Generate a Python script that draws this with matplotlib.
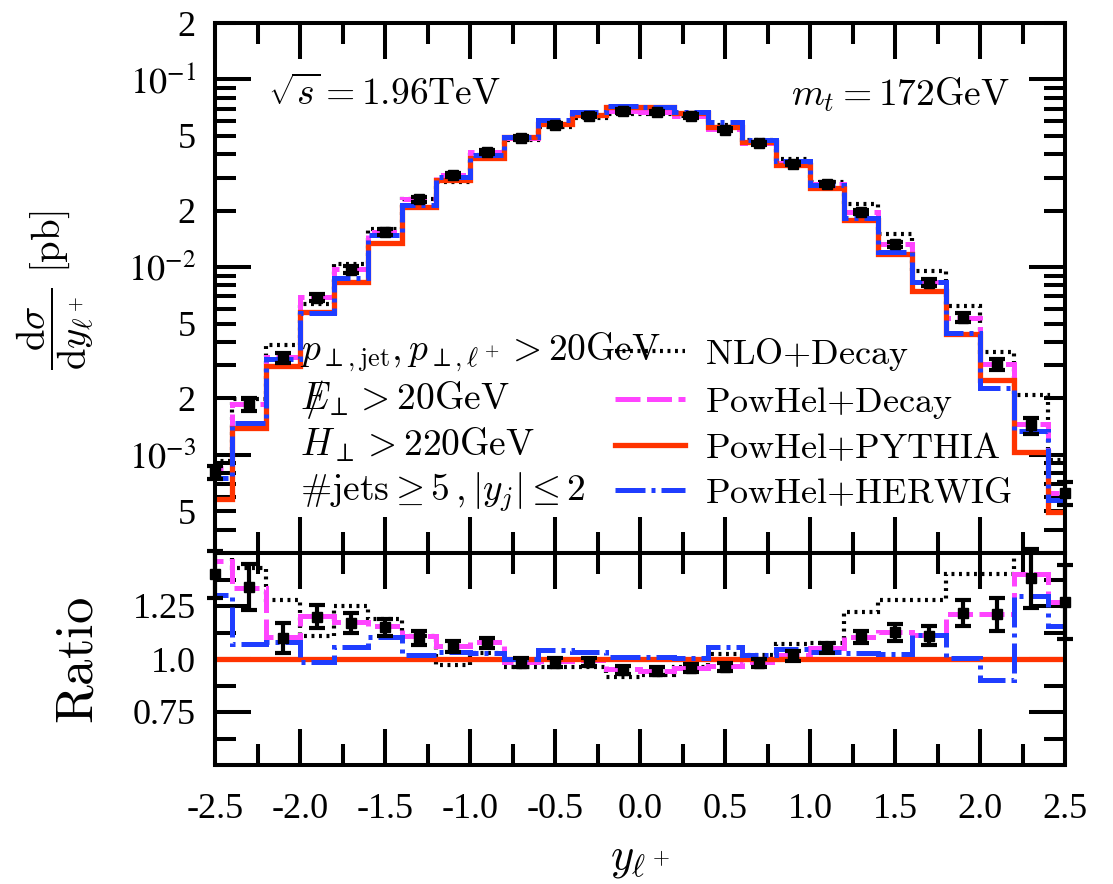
import numpy as np
import matplotlib
matplotlib.use("Agg")
import matplotlib.pyplot as plt
from matplotlib.ticker import FixedLocator, FuncFormatter, MultipleLocator, NullFormatter
from matplotlib.lines import Line2D

plt.rcParams["font.family"] = ["Liberation Serif", "DejaVu Serif"]
plt.rcParams["mathtext.fontset"] = "stix"
plt.rcParams["axes.unicode_minus"] = False

# bin centres in lepton rapidity
y_centers = [-2.5, -2.3, -2.1, -1.9, -1.7, -1.5, -1.3, -1.1, -0.9, -0.7, -0.5, -0.3, -0.1,
             0.1, 0.3, 0.5, 0.7, 0.9, 1.1, 1.3, 1.5, 1.7, 1.9, 2.1, 2.3, 2.5]
bin_width = 0.2

# PowHel+PYTHIA cross section per bin [pb]
xs_pythia = [5.8e-4, 1.39e-3, 2.99e-3, 5.74e-3, 8.3e-3, 1.34e-2, 2.09e-2, 2.92e-2, 3.83e-2,
             4.96e-2, 5.82e-2, 6.5e-2, 7.18e-2, 7.1e-2, 6.67e-2, 5.61e-2, 4.67e-2, 3.51e-2,
             2.64e-2, 1.78e-2, 1.174e-2, 7.45e-3, 4.43e-3, 2.52e-3, 1.04e-3, 4.96e-4]

# other predictions relative to PowHel+PYTHIA
ratio_nlo = [1.60, 1.43, 1.28, 1.11, 1.25, 1.19, 1.11, 0.97, 1.03, 0.96, 0.96, 0.96, 0.915,
             0.925, 0.96, 1.025, 1.02, 1.07, 1.075, 1.22, 1.28, 1.28, 1.40, 1.40, 2.0, 1.9]
ratio_decay = [1.46, 1.336, 1.105, 1.204, 1.176, 1.156, 1.11, 1.06, 1.078, 0.986, 0.99, 0.995,
               0.952, 0.943, 0.957, 0.967, 0.986, 1.018, 1.05, 1.104, 1.127, 1.113, 1.212,
               1.212, 1.40, 1.27]
ratio_herwig = [1.30, 1.07, 1.08, 0.987, 1.058, 1.105, 1.02, 1.035, 1.03, 1.0, 1.042, 1.035,
                1.01, 1.01, 1.005, 1.055, 1.02, 1.048, 1.034, 1.03, 1.025, 1.113, 1.007, 0.903,
                1.295, 1.157]
ratio_points = [1.40, 1.34, 1.10, 1.20, 1.17, 1.15, 1.10, 1.057, 1.075, 0.983, 0.983, 0.986,
                0.948, 0.943, 0.958, 0.962, 0.98, 1.014, 1.052, 1.104, 1.127, 1.11, 1.217,
                1.21, 1.38, 1.27]
ratio_points_err = [0.11, 0.11, 0.07, 0.055, 0.047, 0.04, 0.033, 0.026, 0.025, 0.02, 0.02,
                    0.02, 0.02, 0.018, 0.018, 0.02, 0.02, 0.022, 0.025, 0.03, 0.04, 0.045,
                    0.063, 0.08, 0.14, 0.175]

labels = ["NLO+Decay", "PowHel+Decay", "PowHel+PYTHIA", "PowHel+HERWIG"]

centers = np.array(y_centers)
edges = np.append(centers - bin_width / 2, centers[-1] + bin_width / 2)
pythia = np.array(xs_pythia)
ratios = {
    "nlo": np.array(ratio_nlo),
    "decay": np.array(ratio_decay),
    "pythia": pythia / pythia,
    "herwig": np.array(ratio_herwig),
}
styles = {
    "nlo": dict(color="black", lw=3.0, ls=(0, (0.7, 1.1))),
    "decay": dict(color="#ff44ff", lw=3.6, ls=(0, (5, 1.3))),
    "pythia": dict(color="#ff3300", lw=3.8, ls="-"),
    "herwig": dict(color="#1f3dff", lw=3.6, ls=(0, (6, 1.2, 0.8, 1.2))),
}
order = ["nlo", "decay", "pythia", "herwig"]

W, H = 1113, 884
fig = plt.figure(figsize=(W / 100, H / 100), dpi=100)
ax1 = fig.add_axes([215 / W, (H - 553) / H, 850 / W, 530 / H])
ax2 = fig.add_axes([215 / W, (H - 765) / H, 850 / W, 212 / H])

# upper panel: absolute distributions
for key in order:
    st = styles[key]
    ax1.stairs(pythia * ratios[key], edges, baseline=None, color=st["color"],
               linewidth=st["lw"], linestyle=st["ls"], zorder=3)
pts = pythia * np.array(ratio_points)
pts_err = pythia * np.array(ratio_points_err)
ax1.errorbar(centers, pts, yerr=pts_err, fmt="s", color="black", ms=6.5, elinewidth=3,
             capsize=6, capthick=3, zorder=5, clip_on=False)

# lower panel: ratios to PowHel+PYTHIA
for key in order:
    st = styles[key]
    ax2.stairs(ratios[key], edges, baseline=None, color=st["color"],
               linewidth=st["lw"], linestyle=st["ls"], zorder=3)
ax2.errorbar(centers, ratio_points, yerr=ratio_points_err, fmt="s", color="black", ms=6.5,
             elinewidth=3, capsize=6, capthick=3, zorder=5, clip_on=False)

ax1.set_yscale("log")
ax1.set_ylim(3e-4, 0.2)
ax2.set_ylim(0.5, 1.5)
for ax in (ax1, ax2):
    ax.set_xlim(-2.5, 2.5)
    ax.xaxis.set_major_locator(MultipleLocator(0.5))
    ax.xaxis.set_minor_locator(MultipleLocator(0.25))
    for sp in ax.spines.values():
        sp.set_linewidth(2.9)
        sp.set_zorder(4)
    ax.tick_params(which="both", direction="in", top=True, right=True, width=2.9,
                   labelsize=26)
    ax.tick_params(which="major", length=26)
    ax.tick_params(which="minor", length=15)
    ax.tick_params(axis="y", which="both", pad=14)

ax1.yaxis.set_major_locator(FixedLocator([1e-3, 1e-2, 1e-1]))
ax1.yaxis.set_major_formatter(FuncFormatter(lambda v, p: r"$10^{%d}$" % round(np.log10(v))))
minor_vals = [m * 10.0 ** e for e in (-4, -3, -2, -1) for m in range(2, 10)]
ax1.yaxis.set_minor_locator(FixedLocator(minor_vals))


def minor_label(v, p):
    mant = v / 10 ** np.floor(np.log10(v) + 1e-9)
    m = int(round(mant))
    return str(m) if m in (2, 5) else ""


ax1.yaxis.set_minor_formatter(FuncFormatter(minor_label))
ax1.xaxis.set_major_formatter(NullFormatter())

ax2.yaxis.set_major_locator(FixedLocator([0.5, 0.75, 1.0, 1.25, 1.5]))
ax2.yaxis.set_minor_locator(MultipleLocator(0.125))
ax2.yaxis.set_major_formatter(FuncFormatter(
    lambda v, p: {0.75: "0.75", 1.0: "1.0", 1.25: "1.25"}.get(round(v, 2), "")))
ax2.xaxis.set_major_formatter(FuncFormatter(lambda v, p: "%.1f" % v))
ax2.tick_params(axis="x", which="both", pad=20)

# annotations
def note(x, y, s, **kw):
    t = ax1.text(x, y, s, transform=ax1.transAxes, fontsize=27, va="center", **kw)
    t.set_math_fontfamily("cm")
    return t


note(0.062, 0.864, r"$\sqrt{s} = 1.96\mathrm{TeV}$")
note(0.935, 0.864, r"$m_t = 172\mathrm{GeV}$", ha="right")
note(0.10, 0.379, r"$p_{\perp,\mathrm{jet}}, p_{\perp,\ell^+} > 20\mathrm{GeV}$")
note(0.10, 0.289, r"$E\!\!\!\!/_{\perp} > 20\mathrm{GeV}$")
note(0.10, 0.204, r"$H_{\perp} > 220\mathrm{GeV}$")
note(0.10, 0.115, r"$\#\mathrm{jets} \geq 5\,, |y_j| \leq 2$")

handles = [Line2D([], [], color=styles[k]["color"], lw=styles[k]["lw"], ls=styles[k]["ls"])
           for k in order]
leg = ax1.legend(handles, [r"$\mathrm{%s}$" % l.replace("+", "{+}") for l in labels],
                 loc="upper left", bbox_to_anchor=(0.47, 0.41), frameon=False,
                 fontsize=26, handlelength=1.95, handletextpad=0.55, labelspacing=0.33,
                 borderpad=0, borderaxespad=0)
for t in leg.get_texts():
    t.set_math_fontfamily("cm")

t = fig.text(55 / W, (H - 290) / H,
             r"$\dfrac{\mathrm{d}\sigma}{\mathrm{d}y_{\ell^+}}\ [\mathrm{pb}]$",
             rotation=90, ha="center", va="center", fontsize=28)
t.set_math_fontfamily("cm")
t = fig.text(80 / W, (H - 660) / H, r"$\mathrm{Ratio}$", rotation=90, ha="center",
             va="center", fontsize=38)
t.set_math_fontfamily("cm")
t = fig.text(640 / W, (H - 860) / H, r"$y_{\ell^+}$", ha="center", va="center", fontsize=32)
t.set_math_fontfamily("cm")

fig.savefig("out.png", dpi=100, facecolor="white")
